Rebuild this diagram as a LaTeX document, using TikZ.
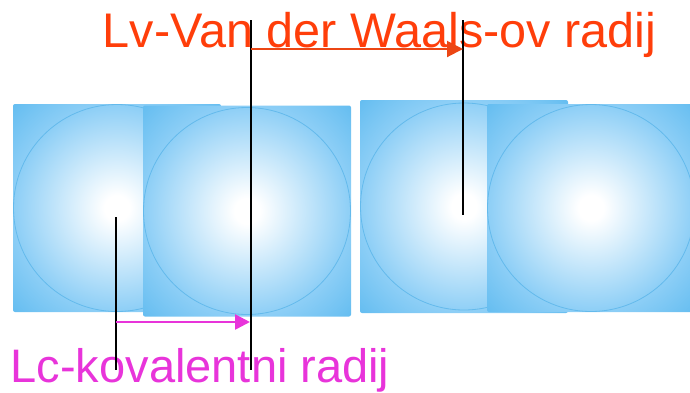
\documentclass[tikz,border=0pt]{standalone}
\usepackage{fontspec}
\setmainfont{Liberation Sans}
\usetikzlibrary{arrows.meta,positioning,calc}

\definecolor{ballmid}{RGB}{140,206,246}
\definecolor{balledge}{RGB}{98,188,240}
\definecolor{ringblue}{RGB}{100,186,236}
\definecolor{vdwred}{RGB}{255,62,10}
\definecolor{vdwarrow}{RGB}{236,70,20}
\definecolor{kovmag}{RGB}{232,52,218}

\pgfdeclareradialshading{ballshade}{\pgfpoint{0bp}{0bp}}{color(0bp)=(white); color(3bp)=(white); color(25bp)=(ballmid); color(36bp)=(balledge); color(50bp)=(balledge)}

\begin{document}
\begin{tikzpicture}[
    x=1pt, y=-1pt,
    ball/.style={rectangle, minimum width=208pt, minimum height=208pt, inner sep=0pt, rounded corners=2pt, shade, shading=ballshade,
        path picture={\draw[ringblue, line width=0.8pt] (path picture bounding box.center) circle (103.5pt);}},
    rline/.style={draw=black, line width=2pt},
    vdwedge/.style={-{Triangle[length=16pt,width=16pt]}, line width=2pt, draw=vdwarrow, fill=vdwarrow},
    kovedge/.style={-{Triangle[length=15pt,width=15pt]}, line width=2.5pt, draw=kovmag, fill=kovmag},
    label/.style={inner sep=0pt, anchor=base west},
]
\useasboundingbox (0,0) rectangle (690,392);

% Atoms of the left pair (covalent bond)
\node[ball] (ball1) at (117,208) {};
\node[ball, minimum height=211pt] (ball2) at (247,211) {};

% Atoms of the right pair (van der Waals contact)
\node[ball, minimum height=213pt] (ball3) at (464,206.5) {};
\node[ball] (ball4) at (591,208) {};

% Labels
\node[label, text=vdwred, font=\fontsize{48.6}{56}\selectfont] (vdw) at (102.5,47) {Lv-Van der Waals-ov radij};
\node[label, text=kovmag, font=\fontsize{47}{56}\selectfont] (kov) at (10.5,382) {Lc-kovalentni radij};

% Radius markers
\coordinate (a1) at (116,217);
\coordinate (a2) at (116,370);
\coordinate (b1) at (251,20);
\coordinate (b2) at (251,370);
\coordinate (c1) at (463,20);
\coordinate (c2) at (463,215);

\draw[rline] (a1) -- (a2);
\draw[rline] (b1) -- (b2);
\draw[rline] (c1) -- (c2);

% Arrows
\coordinate (vdwstart) at (b1 |- 0,49);
\coordinate (vdwend) at (c1 |- 0,49);
\coordinate (kovstart) at (a1 |- 0,322);
\coordinate (kovend) at (250,322);

\draw[vdwedge] (vdwstart) -- (vdwend);
\draw[kovedge] (kovstart) -- (kovend);

\end{tikzpicture}
\end{document}
